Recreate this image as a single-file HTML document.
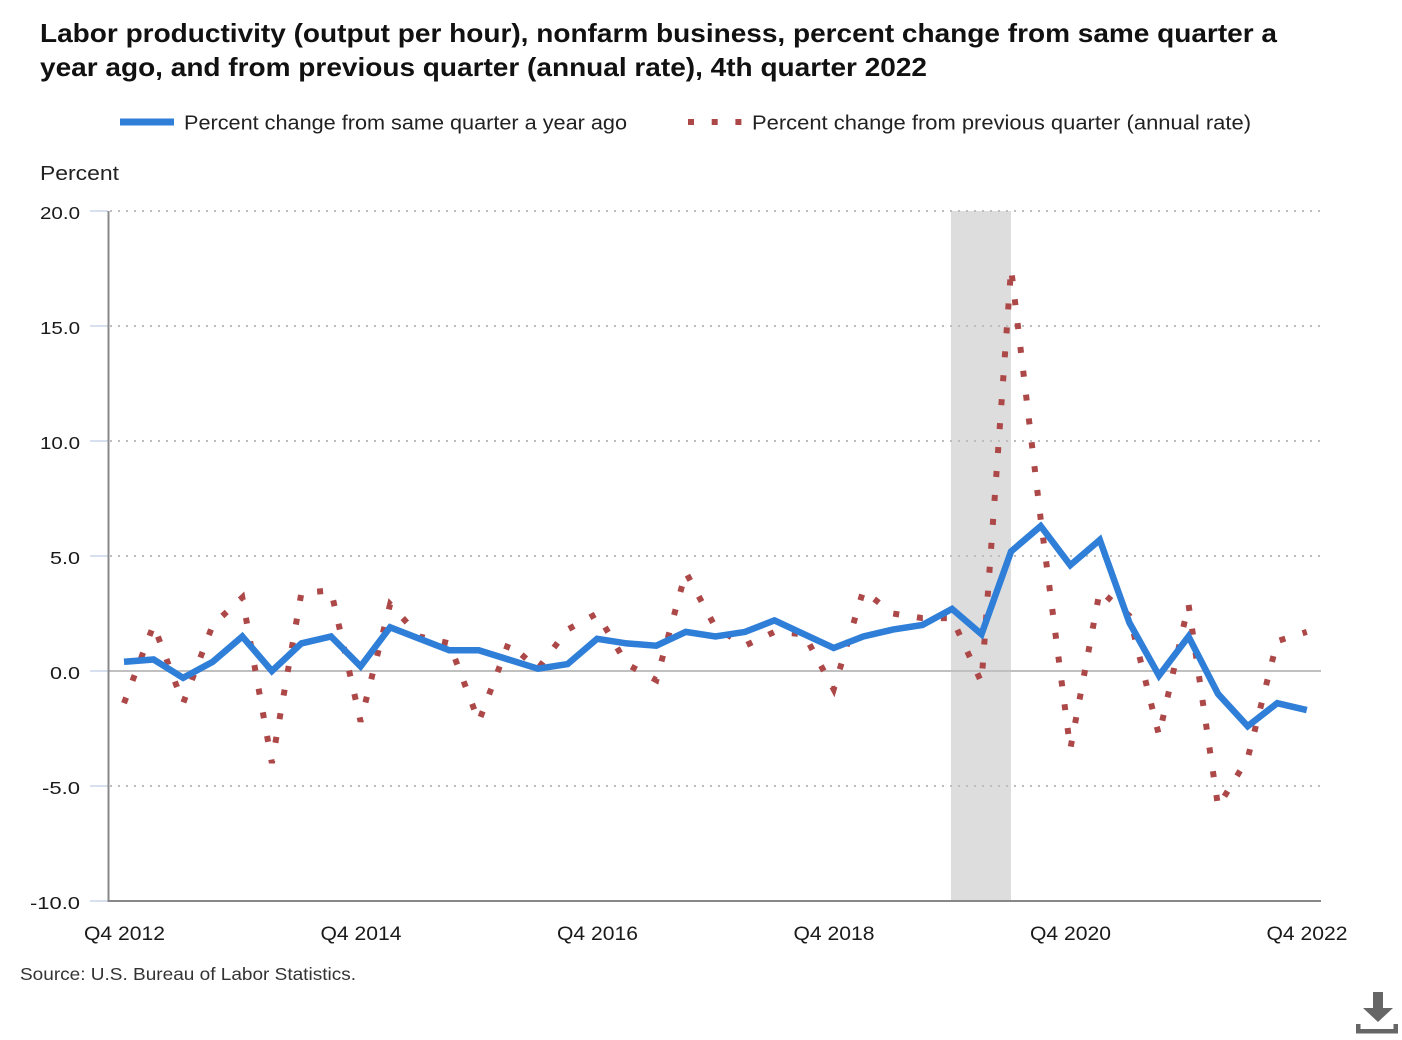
<!DOCTYPE html>
<html>
<head>
<meta charset="utf-8">
<style>
  html, body { margin: 0; padding: 0; background: #ffffff; }
  body { width: 1402px; height: 1040px; overflow: hidden; }
  svg { display: block; }
  text { font-family: "Liberation Sans", "DejaVu Sans", sans-serif; }
</style>
</head>
<body>
<svg width="1402" height="1040" viewBox="0 0 1402 1040" xmlns="http://www.w3.org/2000/svg">
  <rect x="0" y="0" width="1402" height="1040" fill="#ffffff"/>

  <!-- Title -->
  <text x="40" y="42" font-size="25.6" font-weight="bold" fill="#111" textLength="1237" lengthAdjust="spacingAndGlyphs">Labor productivity (output per hour), nonfarm business, percent change from same quarter a</text>
  <text x="40" y="76" font-size="25.6" font-weight="bold" fill="#111" textLength="887" lengthAdjust="spacingAndGlyphs">year ago, and from previous quarter (annual rate), 4th quarter 2022</text>

  <!-- Legend -->
  <rect x="120" y="118.5" width="54" height="7" fill="#2f7ed8"/>
  <text x="184" y="129.5" font-size="20" fill="#222" textLength="443" lengthAdjust="spacingAndGlyphs">Percent change from same quarter a year ago</text>
  <rect x="688" y="119" width="6" height="6" fill="#ad4848"/>
  <rect x="711.7" y="119" width="6" height="6" fill="#ad4848"/>
  <rect x="735.4" y="119" width="6" height="6" fill="#ad4848"/>
  <text x="752" y="129.5" font-size="20" fill="#222" textLength="499" lengthAdjust="spacingAndGlyphs">Percent change from previous quarter (annual rate)</text>

  <!-- Axis title -->
  <text x="40" y="180" font-size="20" fill="#222" textLength="79" lengthAdjust="spacingAndGlyphs">Percent</text>

  <!-- Recession band -->
  <rect x="951" y="211" width="60" height="690" fill="#dddddd"/>

  <!-- Gridlines -->
  <g stroke="#bdbdbd" stroke-width="2" stroke-dasharray="2 6" fill="none">
    <line x1="110" y1="211" x2="1321" y2="211"/>
    <line x1="110" y1="326" x2="1321" y2="326"/>
    <line x1="110" y1="441" x2="1321" y2="441"/>
    <line x1="110" y1="556" x2="1321" y2="556"/>
    <line x1="110" y1="786" x2="1321" y2="786"/>
  </g>
  <line x1="108" y1="671" x2="1321" y2="671" stroke="#c0c0c0" stroke-width="2"/>

  <!-- Y ticks -->
  <g stroke="#ccd6eb" stroke-width="1.5">
    <line x1="90" y1="211" x2="108" y2="211"/>
    <line x1="90" y1="326" x2="108" y2="326"/>
    <line x1="90" y1="441" x2="108" y2="441"/>
    <line x1="90" y1="556" x2="108" y2="556"/>
    <line x1="90" y1="671" x2="108" y2="671"/>
    <line x1="90" y1="786" x2="108" y2="786"/>
    <line x1="90" y1="901" x2="108" y2="901"/>
  </g>

  <!-- Axes -->
  <line x1="108.5" y1="211" x2="108.5" y2="902" stroke="#888" stroke-width="2"/>
  <line x1="108" y1="901" x2="1321" y2="901" stroke="#888" stroke-width="2"/>

  <!-- Y labels -->
  <g font-size="17.5" fill="#1a1a1a" text-anchor="end">
    <text x="80" y="219" textLength="40" lengthAdjust="spacingAndGlyphs">20.0</text>
    <text x="80" y="334" textLength="40" lengthAdjust="spacingAndGlyphs">15.0</text>
    <text x="80" y="449" textLength="40" lengthAdjust="spacingAndGlyphs">10.0</text>
    <text x="80" y="564" textLength="30" lengthAdjust="spacingAndGlyphs">5.0</text>
    <text x="80" y="679" textLength="30" lengthAdjust="spacingAndGlyphs">0.0</text>
    <text x="80" y="794" textLength="38" lengthAdjust="spacingAndGlyphs">-5.0</text>
    <text x="80" y="909" textLength="50" lengthAdjust="spacingAndGlyphs">-10.0</text>
  </g>

  <!-- X labels -->
  <g font-size="19" fill="#1a1a1a">
    <text x="84" y="940" textLength="81" lengthAdjust="spacingAndGlyphs">Q4 2012</text>
    <text x="320.5" y="940" textLength="81" lengthAdjust="spacingAndGlyphs">Q4 2014</text>
    <text x="557" y="940" textLength="81" lengthAdjust="spacingAndGlyphs">Q4 2016</text>
    <text x="793.5" y="940" textLength="81" lengthAdjust="spacingAndGlyphs">Q4 2018</text>
    <text x="1030" y="940" textLength="81" lengthAdjust="spacingAndGlyphs">Q4 2020</text>
    <text x="1266.5" y="940" textLength="81" lengthAdjust="spacingAndGlyphs">Q4 2022</text>
  </g>

  <!-- Red dotted series: percent change from previous quarter -->
  <polyline fill="none" stroke="#ad4848" stroke-width="6" stroke-dasharray="6 18" stroke-linecap="butt" stroke-linejoin="miter"
    points="124.0,703.2 153.6,625.0 183.1,703.2 212.7,625.0 242.3,597.4 271.9,763.0 301.4,592.8 331.0,590.5 360.6,721.6 390.1,604.3 419.7,636.5 449.3,643.4 478.8,721.6 508.4,643.4 538.0,668.7 567.6,629.6 597.1,613.5 626.7,664.1 656.3,680.2 685.8,572.1 715.4,627.3 745.0,645.7 774.5,631.9 804.1,634.2 833.7,689.4 863.3,590.5 892.8,613.5 922.4,618.1 952.0,618.1 981.5,682.5 1011.1,268.5 1040.7,519.2 1070.3,749.2 1099.8,590.5 1129.4,615.8 1159.0,735.4 1188.5,604.3 1218.1,806.7 1247.7,758.4 1277.2,641.1 1306.8,631.9"/>

  <!-- Blue solid series: percent change from same quarter a year ago -->
  <polyline fill="none" stroke="#2f7ed8" stroke-width="6.5" stroke-linejoin="miter" stroke-linecap="butt"
    points="124.0,661.8 153.6,659.5 183.1,677.9 212.7,661.8 242.3,636.5 271.9,671.0 301.4,643.4 331.0,636.5 360.6,666.4 390.1,627.3 419.7,638.8 449.3,650.3 478.8,650.3 508.4,659.5 538.0,668.7 567.6,664.1 597.1,638.8 626.7,643.4 656.3,645.7 685.8,631.9 715.4,636.5 745.0,631.9 774.5,620.4 804.1,634.2 833.7,648.0 863.3,636.5 892.8,629.6 922.4,625.0 952.0,608.9 981.5,634.2 1011.1,551.4 1040.7,526.1 1070.3,565.2 1099.8,539.9 1129.4,622.7 1159.0,675.6 1188.5,636.5 1218.1,694.0 1247.7,726.2 1277.2,703.2 1306.8,710.1"/>

  <!-- Source -->
  <text x="20" y="980" font-size="17.5" fill="#333" textLength="336" lengthAdjust="spacingAndGlyphs">Source: U.S. Bureau of Labor Statistics.</text>

  <!-- Download icon -->
  <g fill="#666">
    <rect x="1373" y="992" width="10" height="17"/>
    <polygon points="1363,1008 1393,1008 1378,1022"/>
    <rect x="1356" y="1029" width="42" height="4.5"/>
    <rect x="1356" y="1024" width="4.5" height="9.5"/>
    <rect x="1393.5" y="1024" width="4.5" height="9.5"/>
  </g>
</svg>
</body>
</html>
